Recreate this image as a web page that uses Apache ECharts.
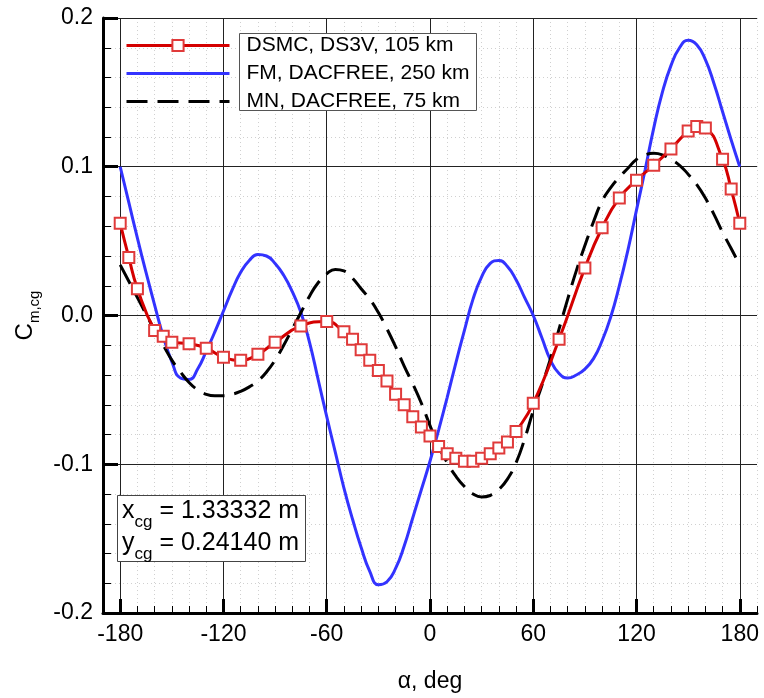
<!DOCTYPE html>
<html><head><meta charset="utf-8">
<script src="https://cdn.jsdelivr.net/npm/echarts@6/dist/echarts.min.js"></script>
<style>html,body{margin:0;padding:0;background:#fff}#c{width:764px;height:698px}</style>
</head><body><div id="c"></div>
<script>
const seriesNames = ['DSMC, DS3V, 105 km', 'FM, DACFREE, 250 km', 'MN, DACFREE, 75 km'];
const majorTicksX = [-180, -120, -60, 0, 60, 120, 180];
const alphaDSMC = [-180,-175,-170,-160,-155,-150,-140,-130,-120,-110,-100,-90,-75,-60,-50,-45,-40,-35,-30,-25,-20,-15,-10,-5,0,5,10,15,20,25,30,35,40,45,50,60,75,90,100,110,120,130,140,150,155,160,170,175,180];
const cmDSMC = [0.062,0.039,0.018,-0.010,-0.014,-0.018,-0.019,-0.022,-0.028,-0.030,-0.026,-0.018,-0.007,-0.004,-0.011,-0.016,-0.023,-0.030,-0.037,-0.044,-0.053,-0.060,-0.068,-0.075,-0.081,-0.088,-0.093,-0.096,-0.098,-0.098,-0.096,-0.093,-0.089,-0.085,-0.078,-0.059,-0.016,0.032,0.059,0.079,0.091,0.101,0.112,0.124,0.127,0.126,0.105,0.085,0.062];
const alphaFine = [-180,-175,-170,-165,-160,-155,-150,-145,-140,-135,-130,-125,-120,-115,-110,-105,-100,-95,-90,-85,-80,-75,-70,-65,-60,-55,-50,-45,-40,-35,-30,-25,-20,-15,-10,-5,0,5,10,15,20,25,30,35,40,45,50,55,60,65,70,75,80,85,90,95,100,105,110,115,120,125,130,135,140,145,150,155,160,165,170,175,180];
const cmFM = [0.100,0.076,0.052,0.029,0.007,-0.014,-0.031,-0.042,-0.043,-0.036,-0.024,-0.011,0.003,0.017,0.029,0.037,0.041,0.040,0.035,0.027,0.016,0.002,-0.018,-0.043,-0.068,-0.092,-0.116,-0.137,-0.156,-0.172,-0.181,-0.179,-0.170,-0.155,-0.136,-0.117,-0.098,-0.077,-0.055,-0.032,-0.010,0.011,0.026,0.035,0.037,0.033,0.024,0.012,0.000,-0.015,-0.030,-0.039,-0.042,-0.040,-0.036,-0.029,-0.017,-0.001,0.020,0.044,0.071,0.098,0.126,0.150,0.168,0.180,0.185,0.182,0.172,0.156,0.137,0.118,0.100];
const cmMN = [0.034,0.023,0.012,0.001,-0.010,-0.020,-0.030,-0.038,-0.045,-0.050,-0.053,-0.054,-0.054,-0.053,-0.051,-0.048,-0.044,-0.038,-0.030,-0.020,-0.009,0.002,0.013,0.022,0.028,0.031,0.030,0.025,0.018,0.011,0.002,-0.009,-0.021,-0.034,-0.046,-0.059,-0.074,-0.088,-0.099,-0.108,-0.115,-0.120,-0.122,-0.121,-0.117,-0.110,-0.099,-0.083,-0.064,-0.047,-0.029,-0.009,0.011,0.030,0.047,0.063,0.077,0.086,0.093,0.099,0.105,0.108,0.109,0.108,0.105,0.101,0.095,0.088,0.079,0.068,0.056,0.045,0.034];

const FONT = '"Liberation Sans", Arial, Helvetica, sans-serif';
const zip = (xs, ys) => xs.map((x, i) => [x, ys[i]]);

const chart = echarts.init(document.getElementById('c'));
chart.setOption({
  animation: false,
  backgroundColor: '#fff',
  textStyle: { fontFamily: FONT },
  grid: { left: 103, right: 7, top: 18, bottom: 85 },
  legend: {
    orient: 'vertical', left: 125, top: 34, padding: 0,
    itemWidth: 103, itemHeight: 14, itemGap: 5,
    textStyle: { fontSize: 21, color: '#000', fontFamily: FONT, lineHeight: 23, padding: [0, 0, 0, 12] },
    lineStyle: { width: 3 },
    data: [
      { name: seriesNames[0] },
      { name: seriesNames[1], itemStyle: { opacity: 0 } },
      { name: seriesNames[2], itemStyle: { opacity: 0 } }
    ],
    z: 5
  },
  xAxis: [
    {
      type: 'value', min: -190, max: 190, position: 'bottom', z: 2,
      axisLine: { show: true, onZero: false, lineStyle: { color: '#000', width: 3 } },
      axisTick: { customValues: majorTicksX, inside: true, length: 14, lineStyle: { color: '#000', width: 3 } },
      axisLabel: { customValues: majorTicksX, margin: 10, fontSize: 23, color: '#000', fontFamily: FONT },
      splitLine: { show: true, lineStyle: { color: '#222', width: 1 } },
      name: 'α, deg', nameLocation: 'middle', nameGap: 57,
      nameTextStyle: { fontSize: 23, color: '#000', fontFamily: FONT }
    },
    {
      type: 'value', min: -190, max: 190, interval: 10, position: 'bottom', z: 0,
      axisLine: { show: false, onZero: false },
      axisLabel: { show: false },
      axisTick: { inside: true, length: 7, lineStyle: { color: '#000', width: 1 } },
      splitLine: { show: true, lineStyle: { color: '#d0d0d0', width: 1, type: [1, 3] } }
    }
  ],
  yAxis: {
    type: 'value', min: -0.2, max: 0.2, interval: 0.1, z: 1,
    axisLine: { show: true, onZero: false, lineStyle: { color: '#000', width: 3 } },
    axisTick: { inside: true, length: 15, lineStyle: { color: '#000', width: 3 } },
    minorTick: { show: true, splitNumber: 5, length: 8, lineStyle: { color: '#000', width: 1 } },
    axisLabel: { formatter: v => v.toFixed(1), fontSize: 23, color: '#000', margin: 10, fontFamily: FONT },
    splitLine: { show: true, lineStyle: { color: '#222', width: 1 } },
    minorSplitLine: { show: true, lineStyle: { color: '#d0d0d0', width: 1, type: [1, 3] } },
    name: '{c|C}{s|m,cg}', nameLocation: 'middle', nameRotate: 90, nameGap: 60,
    nameTextStyle: {
      rich: {
        c: { fontSize: 24, lineHeight: 26, color: '#000', fontFamily: FONT },
        s: { fontSize: 15, lineHeight: 6, verticalAlign: 'top', padding: [15, 0, 0, 0], color: '#000', fontFamily: FONT }
      }
    }
  },
  graphic: [
    { type: 'rect', left: 239, top: 33, z: 3, shape: { width: 237, height: 77 }, style: { fill: '#fff', stroke: '#555', lineWidth: 1 } },
    { type: 'rect', left: 117, top: 495, z: 3, shape: { width: 188, height: 66 }, style: { fill: '#fff', stroke: '#444', lineWidth: 1 } },
    {
      type: 'text', left: 122, top: 495, z: 4,
      style: {
        text: '{t|x}{s|cg}{t| = 1.33332 m}\n{t|y}{s|cg}{t| = 0.24140 m}',
        rich: {
          t: { fontSize: 25, lineHeight: 32, fill: '#000', fontFamily: FONT },
          s: { fontSize: 17, lineHeight: 6, verticalAlign: 'top', padding: [19, 0, 0, 0], fill: '#000', fontFamily: FONT }
        }
      }
    }
  ],
  series: [
    {
      name: seriesNames[0], type: 'line', xAxisIndex: 0, smooth: true,
      data: zip(alphaDSMC, cmDSMC),
      symbol: 'emptyRect', symbolSize: 11,
      lineStyle: { color: '#d40000', width: 3 },
      itemStyle: { color: '#e03a3a', borderWidth: 1.5 },
      z: 4
    },
    {
      name: seriesNames[1], type: 'line', xAxisIndex: 0, smooth: true, symbol: 'none',
      data: zip(alphaFine, cmFM),
      lineStyle: { color: '#3333ff', width: 3 },
      itemStyle: { color: '#3333ff' },
      z: 3
    },
    {
      name: seriesNames[2], type: 'line', xAxisIndex: 0, smooth: true, symbol: 'none',
      data: zip(alphaFine, cmMN),
      lineStyle: { color: '#000', width: 3, type: [21, 10] },
      itemStyle: { color: '#000' },
      z: 3
    }
  ]
});
</script></body></html>
